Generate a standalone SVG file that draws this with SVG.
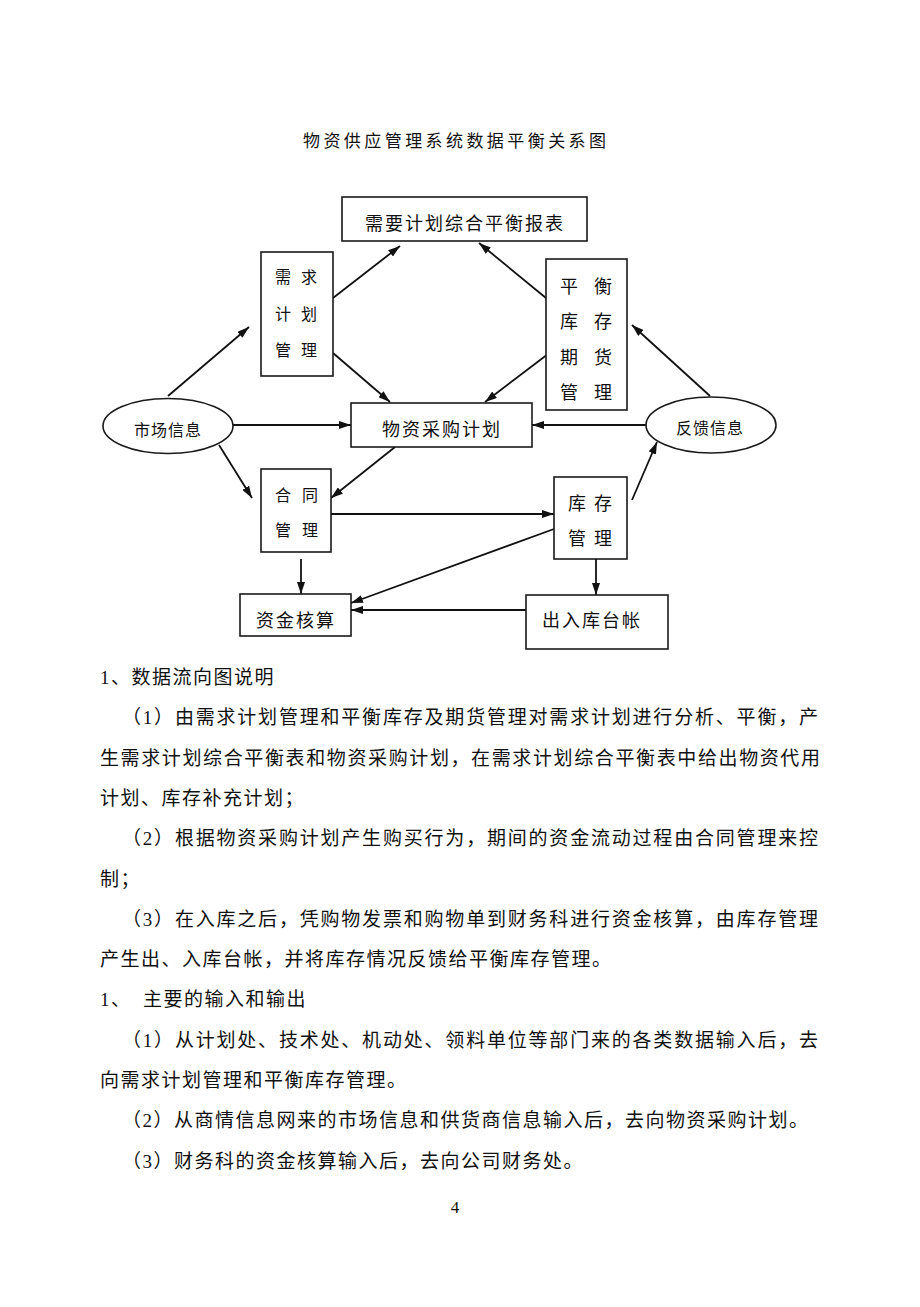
<svg xmlns="http://www.w3.org/2000/svg" width="920" height="1307" viewBox="0 0 920 1307">
<style>
text{font-family:"Liberation Serif","Noto Sans CJK SC",serif;fill:#111}
.box{fill:#fff;stroke:#1a1a1a;stroke-width:1.6}
.lbl{font-size:18px;text-anchor:middle;letter-spacing:2px}
.sm{font-size:16px;text-anchor:middle}
.vc{font-size:18px;text-anchor:middle}
.para{font-size:19px}
.ls{letter-spacing:1.5px}
.conn line{stroke:#111;stroke-width:1.8}
</style>
<defs>
<marker id="ah" viewBox="0 0 12 8" refX="12" refY="4" markerWidth="12" markerHeight="8" markerUnits="userSpaceOnUse" orient="auto">
<path d="M0,0 L12,4 L0,8 Z" fill="#111"/>
</marker>
</defs>
<rect width="920" height="1307" fill="#fff"/>
<text x="303" y="147" font-size="17" textLength="303" lengthAdjust="spacing">物资供应管理系统数据平衡关系图</text>

<g class="conn" marker-end="url(#ah)">
<line x1="168" y1="396" x2="249" y2="327" marker-end="url(#ah)"/>
<line x1="333" y1="298" x2="400" y2="246" marker-end="url(#ah)"/>
<line x1="333" y1="353" x2="390" y2="402" marker-end="url(#ah)"/>
<line x1="546" y1="298" x2="479" y2="243" marker-end="url(#ah)"/>
<line x1="548" y1="354" x2="485" y2="402" marker-end="url(#ah)"/>
<line x1="710" y1="396" x2="632" y2="325" marker-end="url(#ah)"/>
<line x1="233" y1="425" x2="351" y2="425" marker-end="url(#ah)"/>
<line x1="646" y1="425" x2="532" y2="425" marker-end="url(#ah)"/>
<line x1="219" y1="445" x2="252" y2="498" marker-end="url(#ah)"/>
<line x1="395" y1="447" x2="331" y2="498" marker-end="url(#ah)"/>
<line x1="331" y1="514" x2="554" y2="514" marker-end="url(#ah)"/>
<line x1="632" y1="500" x2="657" y2="442" marker-end="url(#ah)"/>
<line x1="301" y1="559" x2="301" y2="594" marker-end="url(#ah)"/>
<line x1="554" y1="529" x2="351" y2="603" marker-end="url(#ah)"/>
<line x1="526" y1="610" x2="351" y2="610" marker-end="url(#ah)"/>
<line x1="596" y1="559" x2="596" y2="595" marker-end="url(#ah)"/>
</g>

<g id="report">
<rect class="box" x="342" y="197" width="245" height="44"/>
<text class="lbl" x="465" y="230">需要计划综合平衡报表</text>
</g>
<g id="demand">
<rect class="box" x="261" y="252" width="72" height="124"/>
<text class="sm" x="283" y="283">需</text><text class="sm" x="309" y="283">求</text>
<text class="sm" x="283" y="320">计</text><text class="sm" x="309" y="320">划</text>
<text class="sm" x="283" y="356">管</text><text class="sm" x="309" y="356">理</text>
</g>
<g id="balance">
<rect class="box" x="546" y="259" width="81" height="151"/>
<text class="vc" x="569" y="293">平</text><text class="vc" x="603" y="293">衡</text>
<text class="vc" x="569" y="328">库</text><text class="vc" x="603" y="328">存</text>
<text class="vc" x="569" y="364">期</text><text class="vc" x="603" y="364">货</text>
<text class="vc" x="569" y="399">管</text><text class="vc" x="603" y="399">理</text>
</g>
<g id="market">
<ellipse cx="168" cy="426" rx="65" ry="27.5" fill="#fff" stroke="#1a1a1a" stroke-width="1.6"/>
<text class="sm" x="168" y="436" letter-spacing="1">市场信息</text>
</g>
<g id="purchase">
<rect class="box" x="351" y="403" width="181" height="44"/>
<text class="lbl" x="442" y="436">物资采购计划</text>
</g>
<g id="feedback">
<ellipse cx="711" cy="425" rx="65" ry="28" fill="#fff" stroke="#1a1a1a" stroke-width="1.6"/>
<text class="sm" x="710" y="434" letter-spacing="1">反馈信息</text>
</g>
<g id="contract">
<rect class="box" x="261" y="469" width="70" height="83"/>
<text class="sm" x="283" y="501">合</text><text class="sm" x="310" y="501">同</text>
<text class="sm" x="283" y="536">管</text><text class="sm" x="310" y="536">理</text>
</g>
<g id="stock">
<rect class="box" x="554" y="477" width="73" height="82"/>
<text class="vc" x="577" y="510">库</text><text class="vc" x="603" y="510">存</text>
<text class="vc" x="577" y="545">管</text><text class="vc" x="603" y="545">理</text>
</g>
<g id="funds">
<rect class="box" x="240" y="594" width="111" height="42"/>
<text class="lbl" x="296" y="627">资金核算</text>
</g>
<g id="ledger">
<rect class="box" x="526" y="595" width="142" height="54"/>
<text class="lbl" x="592" y="627">出入库台帐</text>
</g>

<g id="body">
<text class="para ls" x="100" y="684">1、数据流向图说明</text>
<text class="para" x="122" y="724" textLength="696" lengthAdjust="spacing">（1）由需求计划管理和平衡库存及期货管理对需求计划进行分析、平衡，产</text>
<text class="para" x="100" y="765" textLength="720" lengthAdjust="spacing">生需求计划综合平衡表和物资采购计划，在需求计划综合平衡表中给出物资代用</text>
<text class="para ls" x="100" y="805">计划、库存补充计划；</text>
<text class="para" x="122" y="845" textLength="696" lengthAdjust="spacing">（2）根据物资采购计划产生购买行为，期间的资金流动过程由合同管理来控</text>
<text class="para ls" x="100" y="886">制；</text>
<text class="para" x="122" y="926" textLength="696" lengthAdjust="spacing">（3）在入库之后，凭购物发票和购物单到财务科进行资金核算，由库存管理</text>
<text class="para ls" x="100" y="966">产生出、入库台帐，并将库存情况反馈给平衡库存管理。</text>
<text class="para ls" x="100" y="1006">1、</text>
<text class="para ls" x="143" y="1006">主要的输入和输出</text>
<text class="para" x="122" y="1047" textLength="696" lengthAdjust="spacing">（1）从计划处、技术处、机动处、领料单位等部门来的各类数据输入后，去</text>
<text class="para ls" x="100" y="1087">向需求计划管理和平衡库存管理。</text>
<text class="para ls" x="122" y="1127">（2）从商情信息网来的市场信息和供货商信息输入后，去向物资采购计划。</text>
<text class="para ls" x="122" y="1168">（3）财务科的资金核算输入后，去向公司财务处。</text>
<text x="455" y="1213" font-size="17" text-anchor="middle">4</text>
</g>
</svg>
